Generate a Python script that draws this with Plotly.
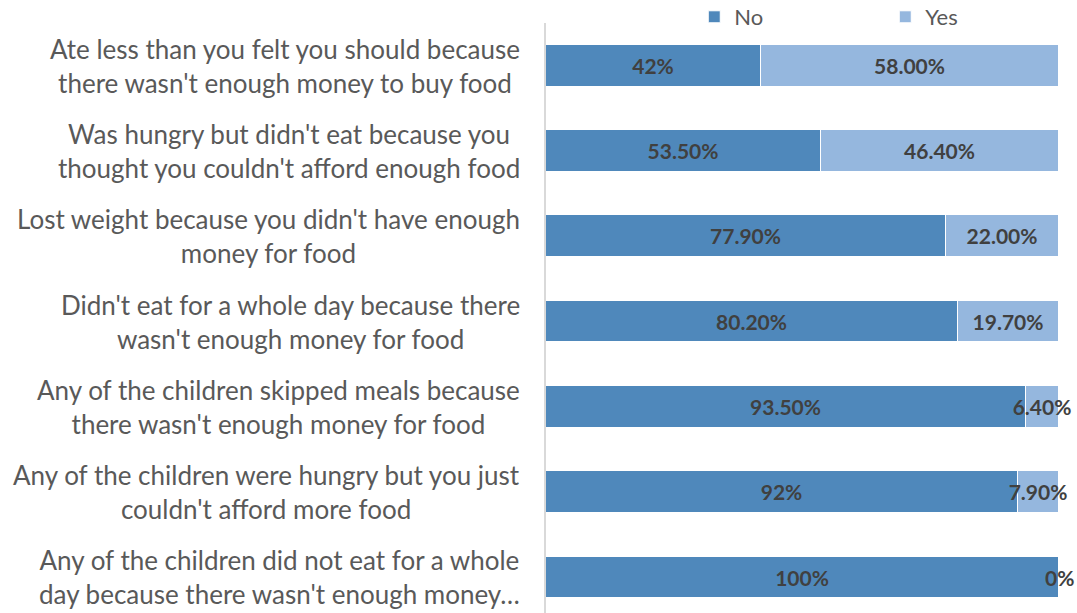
import plotly.graph_objects as go

# Survey questions (top to bottom) and response shares in percent
questions = [
    "Ate less than you felt you should because<br>there wasn't enough money to buy food",
    "Was hungry but didn't eat because you<br>thought you couldn't afford enough food",
    "Lost weight because you didn't have enough<br>money for food",
    "Didn't eat for a whole day because there<br>wasn't enough money for food",
    "Any of the children skipped meals because<br>there wasn't enough money for food",
    "Any of the children were hungry but you just<br>couldn't afford more food",
    "Any of the children did not eat for a whole<br>day because there wasn't enough money…",
]
no_values = [42, 53.5, 77.9, 80.2, 93.5, 92, 100]
yes_values = [58, 46.4, 22, 19.7, 6.4, 7.9, 0]
# decimals shown in each data label
no_decimals = [0, 2, 2, 2, 2, 0, 0]
yes_decimals = [2, 2, 2, 2, 2, 2, 0]

NO_COLOR = "#4F88BB"
YES_COLOR = "#95B7DE"
FONT = "Lato"
LABEL_FONT = dict(family=FONT, size=21, color="#404040", weight="bold")


def fmt(values, decimals):
    return [f"{v:.{d}f}%" for v, d in zip(values, decimals)]


fig = go.Figure()
for name, vals, decs, color in [
    ("No", no_values, no_decimals, NO_COLOR),
    ("Yes", yes_values, yes_decimals, YES_COLOR),
]:
    fig.add_trace(go.Bar(
        name=name,
        y=questions,
        x=vals,
        orientation="h",
        width=0.49,
        marker=dict(color=color, line=dict(color="white", width=1)),
        text=fmt(vals, decs),
        textposition="inside",
        insidetextanchor="middle",
        constraintext="none",
        textangle=0,
        textfont=LABEL_FONT,
        cliponaxis=False,
    ))

# Zero-width "Yes" segments get their label at the end of the stacked bar
for q, n, y, d in zip(questions, no_values, yes_values, yes_decimals):
    if y == 0:
        fig.add_annotation(
            x=(n + y) / (n + y) * 100, xref="x", y=q, yref="y",
            text=f"{y:.{d}f}%", showarrow=False, xanchor="center",
            font=LABEL_FONT,
        )

# Category labels, centred line by line to the left of the bars
for q in questions:
    fig.add_annotation(
        x=0, xref="paper", y=q, yref="y",
        text=q, showarrow=False,
        xanchor="right", align="center",
        xshift=-24,
        font=dict(family=FONT, size=26, color="#595959"),
    )

fig.update_layout(
    width=1077, height=613,
    margin=dict(l=546, r=18, t=23, b=0, autoexpand=False),
    barmode="stack",
    barnorm="percent",
    bargap=0,
    plot_bgcolor="white",
    paper_bgcolor="white",
    font=dict(family=FONT, color="#595959"),
    showlegend=True,
    legend=dict(
        orientation="h",
        x=0.289, xanchor="left",
        y=1.0102, yref="paper", yanchor="middle",
        entrywidth=146, entrywidthmode="pixels",
        font=dict(family=FONT, size=22, color="#595959"),
        traceorder="normal",
        bgcolor="rgba(0,0,0,0)",
    ),
    xaxis=dict(
        range=[0, 100], showgrid=False, zeroline=False,
        showticklabels=False, ticks="", showline=False,
        fixedrange=True,
    ),
    yaxis=dict(
        categoryorder="array", categoryarray=questions,
        range=[6.417, -0.5],
        showticklabels=False, ticks="", showgrid=False, zeroline=False,
        showline=True, linecolor="#D9D9D9", linewidth=2,
        fixedrange=True,
    ),
)

fig.write_html("out.html")
